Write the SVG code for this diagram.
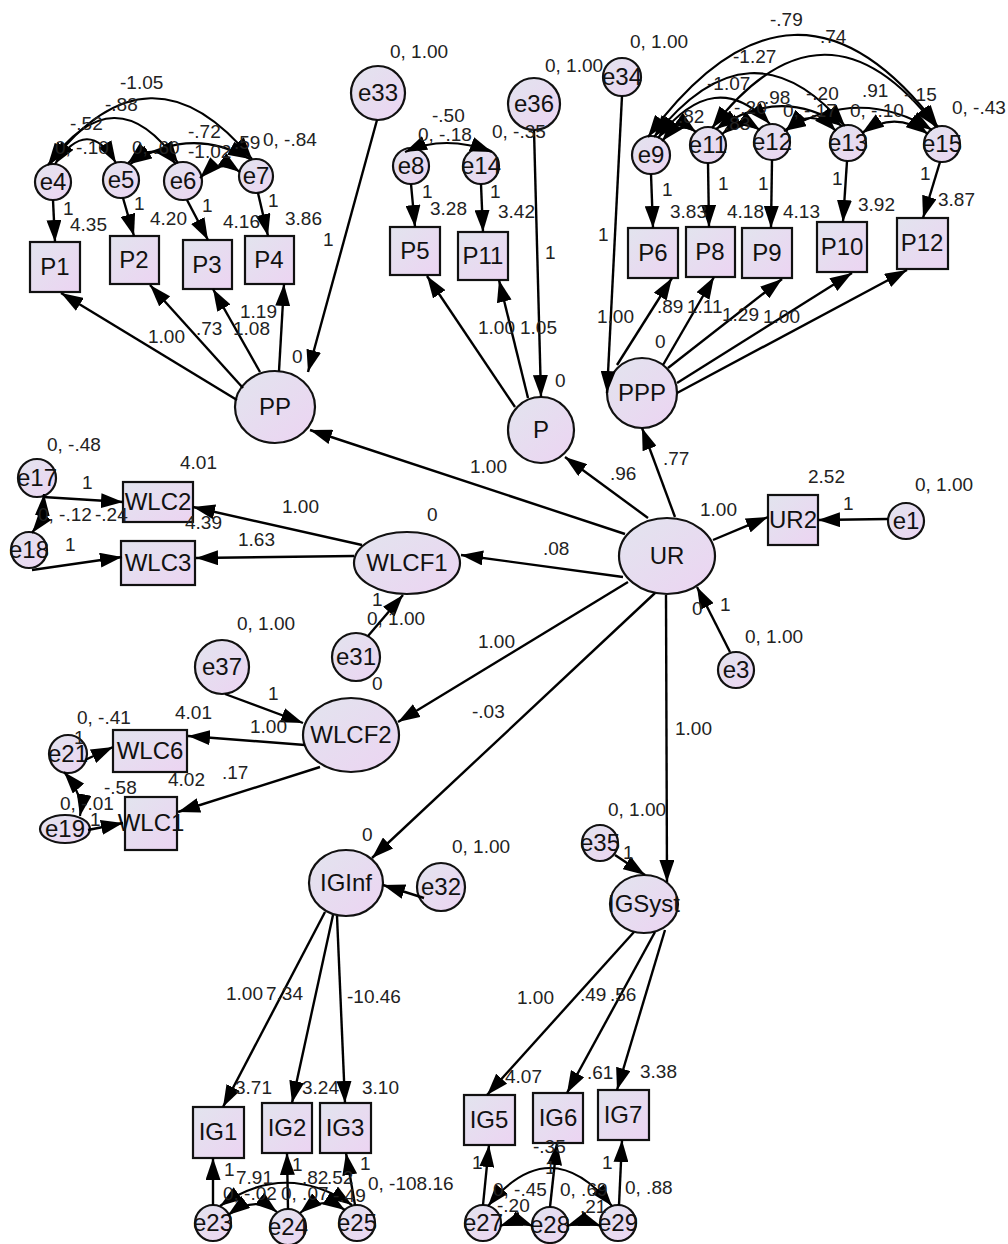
<svg xmlns="http://www.w3.org/2000/svg" width="1008" height="1244" viewBox="0 0 1008 1244">
<defs>
<linearGradient id="g" x1="0" y1="0" x2="1" y2="1">
<stop offset="0" stop-color="#e2e4ee"/>
<stop offset="1" stop-color="#ecd4f2"/>
</linearGradient>
<marker id="a" markerUnits="userSpaceOnUse" markerWidth="22" markerHeight="15" refX="22" refY="7.5" orient="auto-start-reverse" viewBox="0 0 22 15"><path d="M0,0 L22,7.5 L0,15 z" fill="#000"/></marker>
<style>
.n{fill:url(#g);stroke:#111;stroke-width:2.2}
.t{font-family:"Liberation Sans",Arial,sans-serif;font-size:24px;fill:#111;text-anchor:middle}
.l{font-family:"Liberation Sans",Arial,sans-serif;font-size:19px;fill:#222}
.c{stroke:#000;stroke-width:2.4;fill:none;marker-end:url(#a)}
.cv{stroke:#000;stroke-width:2.2;fill:none;marker-start:url(#a);marker-end:url(#a)}
</style>
</defs>
<rect width="1008" height="1244" fill="#fff"/>
<g id="nodes">
<g id="P1"><rect class="n" x="30" y="242" width="50" height="50"/><text class="t" x="55" y="275">P1</text></g>
<g id="P2"><rect class="n" x="110" y="236" width="49" height="48"/><text class="t" x="134" y="268">P2</text></g>
<g id="P3"><rect class="n" x="183" y="240" width="49" height="49"/><text class="t" x="207" y="273">P3</text></g>
<g id="P4"><rect class="n" x="245" y="236" width="49" height="48"/><text class="t" x="269" y="268">P4</text></g>
<g id="e4"><circle class="n" cx="53" cy="182" r="18"/><text class="t" x="53" y="190">e4</text></g>
<g id="e5"><circle class="n" cx="121" cy="180" r="18"/><text class="t" x="121" y="188">e5</text></g>
<g id="e6"><circle class="n" cx="183" cy="181" r="19"/><text class="t" x="183" y="189">e6</text></g>
<g id="e7"><circle class="n" cx="256" cy="176" r="17"/><text class="t" x="256" y="184">e7</text></g>
<g id="e33"><circle class="n" cx="378" cy="93" r="27"/><text class="t" x="378" y="101">e33</text></g>
<g id="e36"><circle class="n" cx="534" cy="104" r="26"/><text class="t" x="534" y="112">e36</text></g>
<g id="e8"><circle class="n" cx="411" cy="166" r="18"/><text class="t" x="411" y="174">e8</text></g>
<g id="e14"><circle class="n" cx="481" cy="166" r="18"/><text class="t" x="481" y="174">e14</text></g>
<g id="P5"><rect class="n" x="390" y="227" width="50" height="48"/><text class="t" x="415" y="259">P5</text></g>
<g id="P11"><rect class="n" x="458" y="232" width="50" height="48"/><text class="t" x="483" y="264">P11</text></g>
<g id="e34"><circle class="n" cx="622" cy="77" r="19"/><text class="t" x="622" y="85">e34</text></g>
<g id="e9"><circle class="n" cx="651" cy="155" r="19"/><text class="t" x="651" y="163">e9</text></g>
<g id="e11"><circle class="n" cx="708" cy="145" r="18"/><text class="t" x="708" y="153">e11</text></g>
<g id="e12"><circle class="n" cx="772" cy="142" r="18"/><text class="t" x="772" y="150">e12</text></g>
<g id="e13"><circle class="n" cx="848" cy="143" r="18"/><text class="t" x="848" y="151">e13</text></g>
<g id="e15"><circle class="n" cx="942" cy="144" r="18"/><text class="t" x="942" y="152">e15</text></g>
<g id="P6"><rect class="n" x="628" y="228" width="50" height="50"/><text class="t" x="653" y="261">P6</text></g>
<g id="P8"><rect class="n" x="686" y="227" width="49" height="50"/><text class="t" x="710" y="260">P8</text></g>
<g id="P9"><rect class="n" x="742" y="228" width="50" height="50"/><text class="t" x="767" y="261">P9</text></g>
<g id="P10"><rect class="n" x="817" y="222" width="50" height="50"/><text class="t" x="842" y="255">P10</text></g>
<g id="P12"><rect class="n" x="897" y="218" width="51" height="51"/><text class="t" x="922" y="251">P12</text></g>
<g id="PP"><ellipse class="n" cx="275" cy="407" rx="40" ry="36"/><text class="t" x="275" y="415">PP</text></g>
<g id="P"><circle class="n" cx="541" cy="430" r="33"/><text class="t" x="541" y="438">P</text></g>
<g id="PPP"><circle class="n" cx="642" cy="393" r="35"/><text class="t" x="642" y="401">PPP</text></g>
<g id="UR"><ellipse class="n" cx="667" cy="556" rx="48" ry="38"/><text class="t" x="667" y="564">UR</text></g>
<g id="UR2"><rect class="n" x="768" y="495" width="50" height="50"/><text class="t" x="793" y="528">UR2</text></g>
<g id="e1"><circle class="n" cx="906" cy="521" r="18"/><text class="t" x="906" y="529">e1</text></g>
<g id="e3"><circle class="n" cx="736" cy="670" r="18"/><text class="t" x="736" y="678">e3</text></g>
<g id="WLC2"><rect class="n" x="123" y="482" width="70" height="40"/><text class="t" x="158" y="510">WLC2</text></g>
<g id="WLC3"><rect class="n" x="121" y="541" width="74" height="44"/><text class="t" x="158" y="571">WLC3</text></g>
<g id="e17"><circle class="n" cx="37" cy="478" r="19"/><text class="t" x="37" y="486">e17</text></g>
<g id="e18"><circle class="n" cx="29" cy="550" r="18"/><text class="t" x="29" y="558">e18</text></g>
<g id="WLCF1"><ellipse class="n" cx="407" cy="563" rx="53" ry="31"/><text class="t" x="407" y="571">WLCF1</text></g>
<g id="e31"><circle class="n" cx="356" cy="657" r="24"/><text class="t" x="356" y="665">e31</text></g>
<g id="e37"><circle class="n" cx="222" cy="667" r="27"/><text class="t" x="222" y="675">e37</text></g>
<g id="WLCF2"><ellipse class="n" cx="351" cy="735" rx="48" ry="37"/><text class="t" x="351" y="743">WLCF2</text></g>
<g id="WLC6"><rect class="n" x="113" y="730" width="74" height="42"/><text class="t" x="150" y="759">WLC6</text></g>
<g id="WLC1"><rect class="n" x="125" y="797" width="52" height="53"/><text class="t" x="151" y="831">WLC1</text></g>
<g id="e21"><circle class="n" cx="68" cy="754" r="19"/><text class="t" x="68" y="762">e21</text></g>
<g id="e19"><ellipse class="n" cx="65" cy="829" rx="25" ry="14"/><text class="t" x="65" y="837">e19</text></g>
<g id="IGInf"><ellipse class="n" cx="346" cy="883" rx="37" ry="33"/><text class="t" x="346" y="891">IGInf</text></g>
<g id="e32"><circle class="n" cx="441" cy="887" r="24"/><text class="t" x="441" y="895">e32</text></g>
<g id="IGSyst"><ellipse class="n" cx="644" cy="904" rx="34" ry="29"/><text class="t" x="644" y="912">IGSyst</text></g>
<g id="e35"><circle class="n" cx="600" cy="843" r="18"/><text class="t" x="600" y="851">e35</text></g>
<g id="IG1"><rect class="n" x="193" y="1107" width="51" height="51"/><text class="t" x="218" y="1140">IG1</text></g>
<g id="IG2"><rect class="n" x="262" y="1103" width="50" height="50"/><text class="t" x="287" y="1136">IG2</text></g>
<g id="IG3"><rect class="n" x="320" y="1103" width="51" height="50"/><text class="t" x="345" y="1136">IG3</text></g>
<g id="e23"><circle class="n" cx="213" cy="1223" r="18"/><text class="t" x="213" y="1231">e23</text></g>
<g id="e24"><circle class="n" cx="288" cy="1227" r="18"/><text class="t" x="288" y="1235">e24</text></g>
<g id="e25"><circle class="n" cx="357" cy="1223" r="18"/><text class="t" x="357" y="1231">e25</text></g>
<g id="IG5"><rect class="n" x="464" y="1095" width="51" height="50"/><text class="t" x="489" y="1128">IG5</text></g>
<g id="IG6"><rect class="n" x="533" y="1093" width="50" height="50"/><text class="t" x="558" y="1126">IG6</text></g>
<g id="IG7"><rect class="n" x="598" y="1090" width="51" height="50"/><text class="t" x="623" y="1123">IG7</text></g>
<g id="e27"><circle class="n" cx="483" cy="1223" r="18"/><text class="t" x="483" y="1231">e27</text></g>
<g id="e28"><circle class="n" cx="550" cy="1225" r="18"/><text class="t" x="550" y="1233">e28</text></g>
<g id="e29"><circle class="n" cx="618" cy="1223" r="18"/><text class="t" x="618" y="1231">e29</text></g>
</g>
<g id="connectors">
<path class="c" d="M625,534 L310,430"/>
<path class="c" d="M648,518 L565,457"/>
<path class="c" d="M675,517 L642,428"/>
<path class="c" d="M713,540 L768,517"/>
<path class="c" d="M888,519 L818,520"/>
<path class="c" d="M730,652 L697,587"/>
<path class="c" d="M623,577 L461,555"/>
<path class="c" d="M628,582 L398,722"/>
<path class="c" d="M655,593 L372,858"/>
<path class="c" d="M666,595 L667,882"/>
<path class="c" d="M362,545 L193,507"/>
<path class="c" d="M354,556 L196,558"/>
<path class="c" d="M43,497 L123,502"/>
<path class="c" d="M32,570 L122,557"/>
<path class="c" d="M368,636 L403,595"/>
<path class="c" d="M225,694 L303,723"/>
<path class="c" d="M305,745 L188,736"/>
<path class="c" d="M320,767 L178,812"/>
<path class="c" d="M85,760 L113,747"/>
<path class="c" d="M88,830 L123,823"/>
<path class="c" d="M424,898 L383,885"/>
<path class="c" d="M615,855 L645,875"/>
<path class="c" d="M325,912 L223,1107"/>
<path class="c" d="M333,915 L292,1103"/>
<path class="c" d="M337,916 L345,1103"/>
<path class="c" d="M634,932 L487,1095"/>
<path class="c" d="M655,932 L567,1093"/>
<path class="c" d="M665,930 L617,1090"/>
<path class="c" d="M213,1205 L213,1158"/>
<path class="c" d="M288,1209 L287,1153"/>
<path class="c" d="M355,1205 L346,1153"/>
<path class="c" d="M483,1205 L489,1145"/>
<path class="c" d="M550,1207 L557,1143"/>
<path class="c" d="M619,1205 L622,1140"/>
<path class="c" d="M237,400 L61,293"/>
<path class="c" d="M243,388 L150,285"/>
<path class="c" d="M260,372 L213,289"/>
<path class="c" d="M279,371 L284,284"/>
<path class="c" d="M377,120 L308,372"/>
<path class="c" d="M53,200 L55,242"/>
<path class="c" d="M123,198 L134,236"/>
<path class="c" d="M187,200 L208,240"/>
<path class="c" d="M258,193 L268,236"/>
<path class="c" d="M515,407 L427,276"/>
<path class="c" d="M528,398 L499,280"/>
<path class="c" d="M534,130 L541,397"/>
<path class="c" d="M411,184 L415,227"/>
<path class="c" d="M481,184 L483,232"/>
<path class="c" d="M622,96 L607,393"/>
<path class="c" d="M617,365 L672,278"/>
<path class="c" d="M663,365 L714,277"/>
<path class="c" d="M668,368 L782,279"/>
<path class="c" d="M677,383 L852,273"/>
<path class="c" d="M677,393 L907,270"/>
<path class="c" d="M651,174 L653,228"/>
<path class="c" d="M708,163 L709,227"/>
<path class="c" d="M772,160 L771,228"/>
<path class="c" d="M847,161 L843,222"/>
<path class="c" d="M940,162 L923,218"/>
<path class="cv" d="M50,164 Q150,35 252,159"/>
<path class="cv" d="M48,165 Q115,72 178,163"/>
<path class="cv" d="M55,164 Q88,115 116,163"/>
<path class="cv" d="M128,163 Q155,140 176,164"/>
<path class="cv" d="M130,164 Q190,125 250,159"/>
<path class="cv" d="M200,178 Q220,158 240,172"/>
<path class="cv" d="M405,152 Q445,134 492,152"/>
<path class="cv" d="M648,137 Q795,-62 938,127"/>
<path class="cv" d="M712,128 Q825,-18 936,127"/>
<path class="cv" d="M654,137 Q750,15 845,126"/>
<path class="cv" d="M658,138 Q715,65 770,124"/>
<path class="cv" d="M716,129 Q780,85 842,126"/>
<path class="cv" d="M662,141 Q680,120 696,132"/>
<path class="cv" d="M722,134 Q742,118 760,130"/>
<path class="cv" d="M786,131 Q810,105 836,131"/>
<path class="cv" d="M784,131 Q860,85 932,130"/>
<path class="cv" d="M862,133 Q895,110 928,134"/>
<path class="cv" d="M44,494 Q42,520 32,533"/>
<path class="cv" d="M64,772 Q84,795 80,816"/>
<path class="cv" d="M220,1206 Q285,1160 352,1205"/>
<path class="cv" d="M228,1215 Q255,1195 277,1212"/>
<path class="cv" d="M300,1213 Q322,1195 345,1210"/>
<path class="cv" d="M488,1206 Q550,1130 612,1206"/>
<path class="cv" d="M500,1226 Q517,1220 533,1226"/>
<path class="cv" d="M567,1226 Q584,1220 601,1226"/>
</g>
<g id="labels" class="l">
<text class="l" x="120" y="89">-1.05</text>
<text class="l" x="105" y="111">-.88</text>
<text class="l" x="70" y="130">-.52</text>
<text class="l" x="55" y="154">0, -.10</text>
<text class="l" x="132" y="154">0, .60</text>
<text class="l" x="188" y="138">-.72</text>
<text class="l" x="188" y="158">-1.02</text>
<text class="l" x="234" y="149">.59</text>
<text class="l" x="263" y="146">0, -.84</text>
<text class="l" x="63" y="215">1</text>
<text class="l" x="70" y="231">4.35</text>
<text class="l" x="134" y="210">1</text>
<text class="l" x="150" y="225">4.20</text>
<text class="l" x="202" y="212">1</text>
<text class="l" x="223" y="228">4.16</text>
<text class="l" x="268" y="207">1</text>
<text class="l" x="285" y="225">3.86</text>
<text class="l" x="323" y="246">1</text>
<text class="l" x="148" y="343">1.00</text>
<text class="l" x="196" y="335">.73</text>
<text class="l" x="233" y="335">1.08</text>
<text class="l" x="240" y="318">1.19</text>
<text class="l" x="292" y="363">0</text>
<text class="l" x="390" y="58">0, 1.00</text>
<text class="l" x="545" y="72">0, 1.00</text>
<text class="l" x="432" y="122">-.50</text>
<text class="l" x="418" y="141">0, -.18</text>
<text class="l" x="492" y="138">0, -.35</text>
<text class="l" x="422" y="198">1</text>
<text class="l" x="430" y="215">3.28</text>
<text class="l" x="490" y="198">1</text>
<text class="l" x="498" y="218">3.42</text>
<text class="l" x="545" y="259">1</text>
<text class="l" x="478" y="334">1.00</text>
<text class="l" x="520" y="334">1.05</text>
<text class="l" x="555" y="387">0</text>
<text class="l" x="770" y="26">-.79</text>
<text class="l" x="630" y="48">0, 1.00</text>
<text class="l" x="820" y="43">.74</text>
<text class="l" x="733" y="63">-1.27</text>
<text class="l" x="707" y="90">-1.07</text>
<text class="l" x="678" y="123">.82</text>
<text class="l" x="724" y="130">.83</text>
<text class="l" x="734" y="114">-.20</text>
<text class="l" x="764" y="104">.98</text>
<text class="l" x="783" y="117">0, -.17</text>
<text class="l" x="806" y="100">-.20</text>
<text class="l" x="862" y="97">.91</text>
<text class="l" x="850" y="117">0, -.10</text>
<text class="l" x="904" y="101">-.15</text>
<text class="l" x="952" y="114">0, -.43</text>
<text class="l" x="662" y="196">1</text>
<text class="l" x="718" y="190">1</text>
<text class="l" x="758" y="190">1</text>
<text class="l" x="832" y="185">1</text>
<text class="l" x="920" y="180">1</text>
<text class="l" x="670" y="218">3.83</text>
<text class="l" x="727" y="218">4.18</text>
<text class="l" x="783" y="218">4.13</text>
<text class="l" x="858" y="211">3.92</text>
<text class="l" x="938" y="206">3.87</text>
<text class="l" x="598" y="241">1</text>
<text class="l" x="597" y="323">1.00</text>
<text class="l" x="657" y="313">.89</text>
<text class="l" x="687" y="313">1.11</text>
<text class="l" x="722" y="321">1.29</text>
<text class="l" x="763" y="323">1.00</text>
<text class="l" x="655" y="348">0</text>
<text class="l" x="470" y="473">1.00</text>
<text class="l" x="610" y="480">.96</text>
<text class="l" x="663" y="465">.77</text>
<text class="l" x="808" y="483">2.52</text>
<text class="l" x="915" y="491">0, 1.00</text>
<text class="l" x="843" y="510">1</text>
<text class="l" x="700" y="516">1.00</text>
<text class="l" x="543" y="555">.08</text>
<text class="l" x="692" y="615">0</text>
<text class="l" x="720" y="611">1</text>
<text class="l" x="745" y="643">0, 1.00</text>
<text class="l" x="47" y="451">0, -.48</text>
<text class="l" x="180" y="469">4.01</text>
<text class="l" x="82" y="489">1</text>
<text class="l" x="38" y="521">0, -.12</text>
<text class="l" x="95" y="521">-.24</text>
<text class="l" x="185" y="529">4.39</text>
<text class="l" x="282" y="513">1.00</text>
<text class="l" x="427" y="521">0</text>
<text class="l" x="65" y="551">1</text>
<text class="l" x="238" y="546">1.63</text>
<text class="l" x="372" y="606">1</text>
<text class="l" x="367" y="625">0, 1.00</text>
<text class="l" x="237" y="630">0, 1.00</text>
<text class="l" x="478" y="648">1.00</text>
<text class="l" x="472" y="718">-.03</text>
<text class="l" x="675" y="735">1.00</text>
<text class="l" x="268" y="700">1</text>
<text class="l" x="77" y="724">0, -.41</text>
<text class="l" x="175" y="719">4.01</text>
<text class="l" x="250" y="733">1.00</text>
<text class="l" x="74" y="744">1</text>
<text class="l" x="168" y="786">4.02</text>
<text class="l" x="222" y="779">.17</text>
<text class="l" x="60" y="810">0, -.01</text>
<text class="l" x="104" y="794">-.58</text>
<text class="l" x="90" y="826">1</text>
<text class="l" x="372" y="690">0</text>
<text class="l" x="362" y="841">0</text>
<text class="l" x="452" y="853">0, 1.00</text>
<text class="l" x="608" y="816">0, 1.00</text>
<text class="l" x="623" y="859">1</text>
<text class="l" x="226" y="1000">1.00</text>
<text class="l" x="266" y="1000">7.34</text>
<text class="l" x="347" y="1003">-10.46</text>
<text class="l" x="517" y="1004">1.00</text>
<text class="l" x="580" y="1001">.49</text>
<text class="l" x="610" y="1001">.56</text>
<text class="l" x="235" y="1094">3.71</text>
<text class="l" x="302" y="1094">3.24</text>
<text class="l" x="362" y="1094">3.10</text>
<text class="l" x="505" y="1083">4.07</text>
<text class="l" x="587" y="1079">.61</text>
<text class="l" x="640" y="1078">3.38</text>
<text class="l" x="224" y="1176">1</text>
<text class="l" x="292" y="1171">1</text>
<text class="l" x="302" y="1184">.82</text>
<text class="l" x="360" y="1170">1</text>
<text class="l" x="236" y="1184">7.91</text>
<text class="l" x="223" y="1200">0, -.02</text>
<text class="l" x="281" y="1200">0, .07</text>
<text class="l" x="327" y="1184">.52</text>
<text class="l" x="333" y="1202">-.49</text>
<text class="l" x="368" y="1190">0, -108.16</text>
<text class="l" x="472" y="1169">1</text>
<text class="l" x="533" y="1153">-.35</text>
<text class="l" x="545" y="1174">1</text>
<text class="l" x="602" y="1169">1</text>
<text class="l" x="493" y="1196">0, -.45</text>
<text class="l" x="560" y="1196">0, .69</text>
<text class="l" x="625" y="1194">0, .88</text>
<text class="l" x="497" y="1212">-.20</text>
<text class="l" x="580" y="1213">.21</text>
</g>
</svg>
